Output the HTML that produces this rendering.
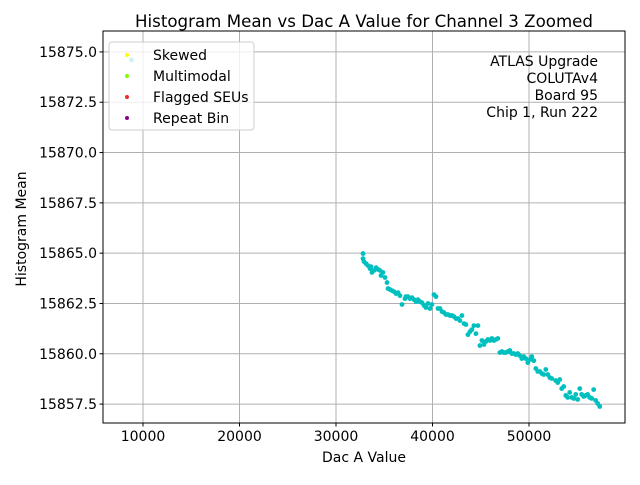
<!DOCTYPE html>
<html><head><meta charset="utf-8"><style>
body{margin:0;background:#fff}
svg{font-family:"DejaVu Sans","Liberation Sans",sans-serif}
</style></head><body>
<svg id="chart" width="640" height="480" xmlns="http://www.w3.org/2000/svg">
<rect width="640" height="480" fill="#fff"/>
<text x="364" y="27" font-size="16.5" text-anchor="middle" textLength="458" lengthAdjust="spacingAndGlyphs">Histogram Mean vs Dac A Value for Channel 3 Zoomed</text>
<g id="grid"></g>
<g id="points"></g>
<rect x="103" y="31" width="522" height="392" fill="none" stroke="#000" stroke-width="1"/>
<g id="ticks"></g>
<text x="364" y="462" font-size="14" text-anchor="middle">Dac A Value</text>
<text transform="translate(26,229) rotate(-90)" font-size="14" text-anchor="middle">Histogram Mean</text>
<g>
<rect x="109" y="42" width="145" height="88" rx="3" fill="#fff" fill-opacity="0.8" stroke="#ccc"/>
<circle cx="127" cy="55" r="2" fill="#ffff00"/>
<text x="153" y="60" font-size="14">Skewed</text>
<circle cx="127" cy="76" r="2" fill="#7fff00"/>
<text x="153" y="81" font-size="14">Multimodal</text>
<circle cx="127" cy="97" r="2" fill="#e8302a"/>
<text x="153" y="102" font-size="14">Flagged SEUs</text>
<circle cx="127" cy="118" r="2" fill="#8b008b"/>
<text x="153" y="123" font-size="14">Repeat Bin</text>
</g>
<g font-size="14" text-anchor="end">
<text x="598" y="66">ATLAS Upgrade</text>
<text x="598" y="83">COLUTAv4</text>
<text x="598" y="100">Board 95</text>
<text x="598" y="117">Chip 1, Run 222</text>
</g>
</svg>
<script>
const xTicks=[10000,20000,30000,40000,50000];
const yTicks=[15857.5,15860.0,15862.5,15865.0,15867.5,15870.0,15872.5,15875.0];
const dacValues=[8800,32800,32800,32900,33110,33320,33530,33730,33630,33940,34150,34350,34560,34660,34870,35080,35290,35390,35600,35800,36010,36220,36430,36630,36840,37150,37250,37460,37670,37870,38080,38290,38490,38700,38910,39120,39320,39530,39740,39940,40150,40360,40570,40770,40980,41190,41390,41600,41810,42020,42220,42430,42640,42840,43050,43260,43460,43670,43880,44080,44290,44500,44710,44910,45120,45330,45530,45740,45950,46150,46360,46570,46770,46980,47190,47400,47600,47810,48020,48220,48430,48640,48840,49050,49260,49460,49670,49880,50090,50290,50500,50710,50910,51120,51330,51530,51740,51950,52150,52360,52770,52980,53190,53390,53600,53810,54010,54220,54430,54640,54840,55050,55260,55460,55670,55880,56080,56290,56500,56700,56910,57120,57330];
const meanValues=[15874.6,15864.98,15864.73,15864.58,15864.48,15864.38,15864.23,15864.04,15864.33,15864.14,15864.28,15864.19,15864.14,15863.89,15864.04,15863.79,15863.54,15863.24,15863.19,15863.14,15863.09,15862.99,15863.04,15862.89,15862.45,15862.74,15862.84,15862.84,15862.74,15862.79,15862.69,15862.59,15862.69,15862.59,15862.54,15862.40,15862.30,15862.50,15862.25,15862.45,15862.94,15862.84,15862.25,15862.25,15862.10,15862.05,15861.95,15861.95,15861.90,15861.90,15861.85,15861.75,15861.75,15861.65,15861.90,15861.50,15861.45,15860.95,15861.10,15861.20,15861.40,15861.00,15861.40,15860.41,15860.66,15860.46,15860.61,15860.71,15860.66,15860.76,15860.66,15860.71,15860.76,15860.06,15860.11,15860.06,15860.06,15860.11,15860.16,15860.01,15860.01,15859.96,15860.01,15859.91,15859.76,15859.86,15859.76,15859.56,15859.71,15859.86,15859.66,15859.27,15859.12,15859.12,15859.02,15858.97,15859.22,15858.97,15858.82,15858.77,15858.67,15858.57,15858.72,15858.27,15858.37,15857.93,15857.83,15858.08,15857.83,15857.78,15857.98,15857.73,15858.27,15857.98,15857.88,15857.93,15857.98,15857.83,15857.78,15858.22,15857.68,15857.53,15857.38];
const X0=5855,X1=59948,Y0=15856.56,Y1=15876.04;
const L=103,R=625,T=31,B=423;
function sx(v){return L+(v-X0)/(X1-X0)*(R-L);}
function sy(v){return B-(v-Y0)/(Y1-Y0)*(B-T);}
const NS="http://www.w3.org/2000/svg";
const grid=document.getElementById('grid'),ticks=document.getElementById('ticks'),pts=document.getElementById('points');
function mk(tag,attrs,parent){const e=document.createElementNS(NS,tag);for(const k in attrs)e.setAttribute(k,attrs[k]);parent.appendChild(e);return e;}
xTicks.forEach(v=>{const x=sx(v);
 const g=mk('line',{x1:x,x2:x,y1:T,y2:B,stroke:'#b0b0b0','stroke-width':1},grid);
 
 
 mk('line',{x1:x,x2:x,y1:B,y2:B+3.5,stroke:'#000'},ticks);
 const t=mk('text',{x:x,y:B+18,'font-size':14,'text-anchor':'middle'},ticks);t.textContent=v;
 
 
});
yTicks.forEach(v=>{const y=sy(v);
 const g=mk('line',{x1:L,x2:R,y1:y,y2:y,stroke:'#b0b0b0','stroke-width':1},grid);
 
 
 mk('line',{x1:L-3.5,x2:L,y1:y,y2:y,stroke:'#000'},ticks);
 const t=mk('text',{x:L-6,y:y+5,'font-size':14,'text-anchor':'end'},ticks);t.textContent=v.toFixed(1);
 
 
});
dacValues.forEach((v,i)=>{
 const c=mk('circle',{cx:sx(v),cy:sy(meanValues[i]),r:2.4,fill:'#00bfbf'},pts);
 
 
});
</script>
</body></html>
